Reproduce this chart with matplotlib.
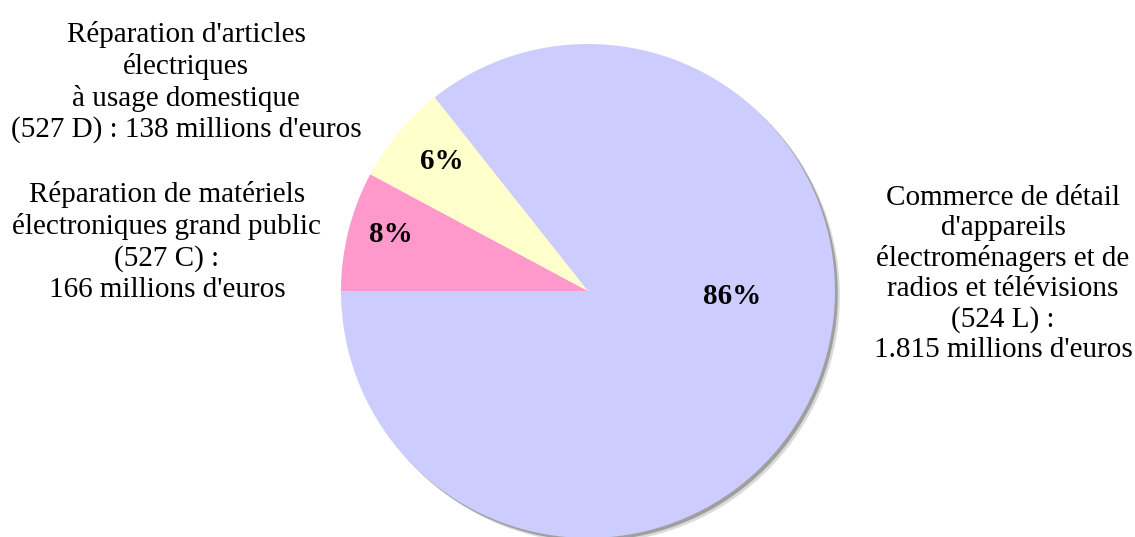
import matplotlib.pyplot as plt
import matplotlib.patheffects as pe
import numpy as np

# chiffre d'affaires, millions d'euros
values = [166, 138, 1815]
pct_labels = ["8%", "6%", "86%"]
colors = ["#FF99CC", "#FFFFCC", "#CCCCFF"]
descriptions = [
    "Réparation de matériels\nélectroniques grand public\n(527 C) :\n166 millions d'euros",
    "Réparation d'articles\nélectriques\nà usage domestique\n(527 D) : 138 millions d'euros",
    "Commerce de détail\nd'appareils\nélectroménagers et de\nradios et télévisions\n(524 L) :\n1.815 millions d'euros",
]

W, H = 1135, 537
plt.rcParams["font.family"] = ["Liberation Serif", "DejaVu Serif"]

fig = plt.figure(figsize=(W / 100, H / 100), dpi=100)
ax = fig.add_axes([0, 0, 1, 1])

cx, cy, r = 588, H - 291, 247
wedges, _ = ax.pie(values, colors=colors, startangle=180, counterclock=False,
                   center=(cx, cy), radius=r, wedgeprops=dict(linewidth=0))

# soft drop shadow, only on the big slice (the others sit on top of it)
wedges[-1].set_path_effects([
    pe.SimplePatchShadow(offset=(3.5, -3.5), shadow_rgbFace="0.35", alpha=0.22),
    pe.SimplePatchShadow(offset=(2, -2), shadow_rgbFace="0.35", alpha=0.45),
    pe.Normal(),
])

ax.set_xlim(0, W)
ax.set_ylim(0, H)
ax.set_aspect("equal")
ax.axis("off")

# percentage labels: (fraction of radius, angle in degrees)
label_pos = [(0.83, 164), (0.79, 138.5), (0.583, -2)]
for txt, (dist, ang) in zip(pct_labels, label_pos):
    a = np.deg2rad(ang)
    ax.text(cx + dist * r * np.cos(a), cy + dist * r * np.sin(a), txt,
            ha="center", va="center", fontsize=21, fontweight="bold")

# category descriptions
desc_pos = [(167, 242), (186, 82), (1003, 274)]
desc_spacing = [1.24, 1.24, 1.2]
for txt, (x, y), ls in zip(descriptions, desc_pos, desc_spacing):
    ax.text(x, H - y, txt, ha="center", va="center", fontsize=21,
            linespacing=ls, multialignment="center")

fig.savefig("out.png", dpi=100)
